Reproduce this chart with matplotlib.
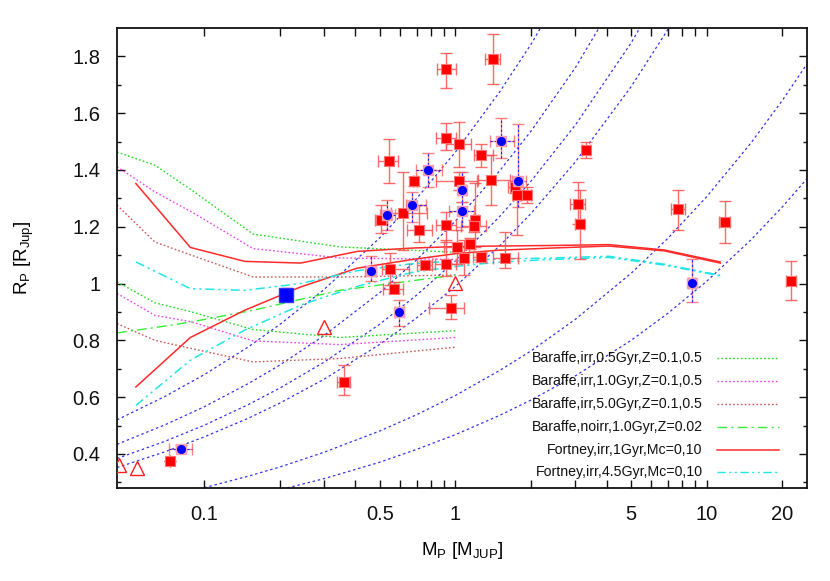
import numpy as np
import matplotlib
matplotlib.use("Agg")
import matplotlib.pyplot as plt
from matplotlib.ticker import FixedLocator, NullFormatter, FixedFormatter

plt.rcParams['font.family'] = ['Liberation Sans', 'DejaVu Sans']
plt.rcParams['mathtext.fontset'] = 'custom'
plt.rcParams['mathtext.rm'] = 'Liberation Sans'
plt.rcParams['mathtext.it'] = 'Liberation Sans'

# ---- transiting planets (red): M, R, M_lo, M_hi, R_lo, R_hi
red_m   = [0.921, 1.411, 0.921, 1.031, 0.543, 1.269, 0.687, 1.031, 1.391, 1.721,
           1.764, 1.934, 0.505, 0.621, 0.719, 0.918, 1.201, 1.182, 3.065, 3.13,
           3.308, 1.012, 1.143, 1.082, 1.261, 1.581, 0.915, 0.753, 0.551, 0.568,
           0.964, 0.359, 0.073, 7.68, 11.78, 21.57]
red_r   = [1.754, 1.792, 1.514, 1.490, 1.430, 1.452, 1.360, 1.360, 1.364, 1.340,
           1.311, 1.311, 1.225, 1.250, 1.190, 1.205, 1.223, 1.202, 1.280, 1.210,
           1.470, 1.130, 1.139, 1.090, 1.093, 1.090, 1.070, 1.066, 1.050, 0.982,
           0.914, 0.653, 0.375, 1.261, 1.217, 1.008]
red_mlo = [0.843, 1.311, 0.835, 0.921, 0.492, 1.183, 0.675, 0.835, 1.227, 1.62,
           1.70, 1.802, 0.478, 0.556, 0.640, 0.835, 1.17, 1.056, 2.868, 3.0,
           3.2, 0.90, 1.10, 1.05, 1.175, 1.411, 0.827, 0.706, 0.512, 0.515,
           0.783, 0.338, 0.073, 7.22, 11.23, 20.75]
red_mhi = [1.003, 1.510, 1.009, 1.150, 0.591, 1.407, 0.700, 1.223, 1.644, 1.80,
           1.83, 2.005, 0.533, 0.767, 0.803, 1.009, 1.23, 1.328, 3.277, 3.26,
           3.42, 1.13, 1.19, 1.12, 1.328, 1.773, 1.009, 0.803, 0.652, 0.619,
           1.079, 0.382, 0.073, 8.19, 12.34, 22.6]
red_rlo = [1.690, 1.702, 1.469, 1.411, 1.353, 1.411, 1.345, 1.329, 1.276, 1.32,
           1.170, 1.285, 1.177, 1.117, 1.146, 1.146, 1.129, 1.18, 1.211, 1.088,
           1.441, 1.07, 1.12, 1.029, 1.075, 1.054, 1.026, 1.05, 0.994, 0.965,
           0.874, 0.607, 0.375, 1.190, 1.143, 0.941]
red_rhi = [1.813, 1.880, 1.565, 1.569, 1.508, 1.490, 1.375, 1.393, 1.452, 1.36,
           1.353, 1.340, 1.276, 1.392, 1.276, 1.252, 1.353, 1.225, 1.358, 1.331,
           1.499, 1.19, 1.16, 1.152, 1.11, 1.182, 1.152, 1.08, 1.107, 1.006,
           0.959, 0.712, 0.375, 1.331, 1.290, 1.080]

# ---- blue points
blue_m   = [1.518, 0.778, 1.062, 1.781, 1.062, 0.672, 0.533, 0.460, 0.597, 0.081, 8.73]
blue_r   = [1.501, 1.400, 1.331, 1.360, 1.255, 1.275, 1.243, 1.044, 0.899, 0.419, 1.002]
blue_mlo = [1.369, 0.695, 1.024, 1.675, 0.940, 0.638, 0.500, 0.436, 0.573, 0.0726, 8.45]
blue_mhi = [1.706, 0.882, 1.106, 1.916, 1.182, 0.762, 0.573, 0.485, 0.623, 0.0897, 9.0]
blue_rlo = [1.441, 1.34, 1.287, 1.270, 1.199, 1.217, 1.188, 1.009, 0.850, 0.41, 0.935]
blue_rhi = [1.582, 1.46, 1.393, 1.561, 1.287, 1.3225, 1.293, 1.096, 0.941, 0.43, 1.088]

big_m, big_r, big_rlo, big_rhi = [0.211], [0.959], [0.94], [0.985]

# ---- solar system giants (open triangles)
ss_m = [0.0459, 0.0541, 0.300, 1.0]
ss_r = [0.360, 0.351, 0.847, 1.003]

# ---- Baraffe models
bar_m = [0.045, 0.0637, 0.0891, 0.1566, 0.3466, 1.0]
bar_05_z1 = [1.463, 1.4165, 1.329, 1.174, 1.129, 1.11]
bar_05_z5 = [1.006, 0.932, 0.900, 0.838, 0.810, 0.834]
bar_10_z1 = [1.411, 1.3225, 1.252, 1.123, 1.090, 1.085]
bar_10_z5 = [0.965, 0.888, 0.865, 0.798, 0.785, 0.81]
bar_50_z1 = [1.276, 1.146, 1.0996, 1.023, 1.023, 1.03]
bar_50_z5 = [0.859, 0.800, 0.771, 0.724, 0.736, 0.776]
bar_noirr = [0.826, 0.845, 0.865, 0.906, 0.976, 1.03]

# ---- Fortney models
fort_m = [0.0535, 0.0881, 0.145, 0.242, 0.406, 0.677, 1.0, 1.46, 2.44, 4.07, 6.78, 11.31]
fort_1_mc0  = [1.352, 1.127, 1.078, 1.072, 1.113, 1.125, 1.13, 1.132, 1.134, 1.137, 1.118, 1.076]
fort_1_mc10 = [0.636, 0.810, 0.906, 0.988, 1.054, 1.085, 1.105, 1.117, 1.125, 1.132, 1.115, 1.072]
fort_45_mc0  = [1.076, 0.982, 0.976, 1.000, 1.045, 1.070, 1.080, 1.086, 1.090, 1.096, 1.068, 1.029]
fort_45_mc10 = [0.571, 0.730, 0.836, 0.924, 0.990, 1.040, 1.060, 1.075, 1.085, 1.092, 1.065, 1.027]

# ---- iso-density curves
iso_m = [0.045, 0.07, 0.1, 0.15, 0.2, 0.3, 0.5, 0.7, 1, 1.5, 2, 3, 5, 7, 10, 15, 20, 25]
iso_r = [
    [0.520, 0.603, 0.679, 0.777, 0.856, 0.979, 1.161, 1.299, 1.463, 1.675, 1.843, 2.11],
    [0.434, 0.503, 0.566, 0.648, 0.713, 0.817, 0.968, 1.083, 1.220, 1.397, 1.537, 1.760, 2.09],
    [0.384, 0.445, 0.501, 0.574, 0.632, 0.723, 0.857, 0.959, 1.080, 1.236, 1.361, 1.558, 1.847, 2.07],
    [0.352, 0.408, 0.460, 0.526, 0.579, 0.663, 0.786, 0.879, 0.990, 1.133, 1.247, 1.428, 1.693, 1.894, 2.13],
    [0.216, 0.250, 0.281, 0.322, 0.354, 0.406, 0.481, 0.538, 0.606, 0.694, 0.763, 0.874, 1.036, 1.159, 1.306, 1.495, 1.645, 1.772],
    [0.167, 0.193, 0.217, 0.249, 0.274, 0.313, 0.371, 0.416, 0.468, 0.536, 0.590, 0.675, 0.800, 0.895, 1.008, 1.154, 1.270, 1.368],
]

legend_labels = ['Baraffe,irr,0.5Gyr,Z=0.1,0.5', 'Baraffe,irr,1.0Gyr,Z=0.1,0.5',
                 'Baraffe,irr,5.0Gyr,Z=0.1,0.5', 'Baraffe,noirr,1.0Gyr,Z=0.02',
                 'Fortney,irr,1Gyr,Mc=0,10', 'Fortney,irr,4.5Gyr,Mc=0,10']

c_green, c_mag, c_brown = '#22dd22', '#ee44ee', '#c85a5a'
c_dgreen, c_red, c_cyan = '#33ee33', '#ff2a2a', '#22e6e6'
dotted = (0, (1.2, 1.6))
dashdot = (0, (7, 3, 1.5, 3))
dashdotdot = (0, (6, 2.5, 1.5, 2.5, 1.5, 2.5))

fig = plt.figure(figsize=(8.3, 5.81), dpi=100)
ax = fig.add_axes([0.141, 0.160, 0.831, 0.792])

for r in iso_r:
    ax.plot(iso_m[:len(r)], r, color='#3333ee', ls=(0, (2, 2.2)), lw=0.9, zorder=1)

for r, c in [(bar_05_z1, c_green), (bar_05_z5, c_green), (bar_10_z1, c_mag),
             (bar_10_z5, c_mag), (bar_50_z1, c_brown), (bar_50_z5, c_brown)]:
    ax.plot(bar_m, r, color=c, ls=dotted, lw=1.0, zorder=2)
ax.plot(bar_m, bar_noirr, color=c_dgreen, ls=dashdot, lw=1.0, zorder=2)
for r in (fort_1_mc0, fort_1_mc10):
    ax.plot(fort_m, r, color=c_red, lw=1.1, zorder=2)
for r in (fort_45_mc0, fort_45_mc10):
    ax.plot(fort_m, r, color=c_cyan, ls=dashdotdot, lw=1.1, zorder=2)

# red planets
rm, rr = np.array(red_m), np.array(red_r)
xerr = [rm - np.array(red_mlo), np.array(red_mhi) - rm]
yerr = [rr - np.array(red_rlo), np.array(red_rhi) - rr]
ax.errorbar(rm, rr, xerr=xerr, yerr=yerr, fmt='none', ecolor='#ff5050',
            elinewidth=1.0, capsize=4, capthick=1.0, alpha=0.85, zorder=3)
ax.plot(rm, rr, 's', ms=6.5, mfc='#ff0000', mec='#ff7070', mew=0.8, ls='none', zorder=4)

# blue planets
bm, br = np.array(blue_m), np.array(blue_r)
bx = [bm - np.array(blue_mlo), np.array(blue_mhi) - bm]
by = [br - np.array(blue_rlo), np.array(blue_rhi) - br]
ax.errorbar(bm, br, xerr=bx, yerr=by, fmt='none', ecolor='#ff6060',
            elinewidth=1.0, capsize=4, capthick=1.0, alpha=0.8, zorder=3)
eb = ax.errorbar(bm, br, xerr=bx, yerr=by, fmt='none', ecolor='#2020ff',
                 elinewidth=0.8, capsize=0, zorder=3)
for lc in eb[2]:
    lc.set_linestyle((0, (2, 2)))
ax.plot(bm, br, 's', ms=6.5, mfc='#f4a0b4', mec='#f4a0b4', ls='none', zorder=4)
ax.plot(bm, br, 'o', ms=5.5, mfc='#0000ff', mec='#0000ff', ls='none', zorder=5)

ax.errorbar(big_m, big_r, yerr=[[big_r[0] - big_rlo[0]], [big_rhi[0] - big_r[0]]],
            fmt='none', ecolor='#ff3030', capsize=3, zorder=3)
ax.plot(big_m, big_r, 's', ms=10, mfc='#0000ff', mec='#3030ff', ls='none', zorder=5)

ax.plot(ss_m, ss_r, '^', ms=10, mfc='none', mec='#ff2020', mew=1.0, ls='none', zorder=5)

# legend, right-aligned text with sample to the right
leg_styles = [(c_green, dotted), (c_mag, dotted), (c_brown, dotted),
              (c_dgreen, dashdot), (c_red, '-'), (c_cyan, dashdotdot)]
leg_y = [0.282, 0.2326, 0.1826, 0.1333, 0.0826, 0.0341]
for lab, (c, ls), yy in zip(legend_labels, leg_styles, leg_y):
    ax.text(0.849, yy, lab, transform=ax.transAxes, ha='right', va='center',
            fontsize=10.2, color='#111111')
    ax.plot([0.8695, 0.960], [yy, yy], transform=ax.transAxes, color=c, ls=ls,
            lw=1.1 if ls == '-' else 1.0, zorder=6)

ax.set_xscale('log')
ax.set_xlim(0.045, 25)
ax.set_ylim(0.28, 1.9)

xt = [0.1 * i for i in range(1, 10)] + [float(i) for i in range(1, 10)] + [10.0, 20.0]
xlab = {0.1: '0.1', 0.5: '0.5', 1.0: '1', 5.0: '5', 10.0: '10', 20.0: '20'}
ax.xaxis.set_major_locator(FixedLocator(xt))
ax.xaxis.set_major_formatter(FixedFormatter([xlab.get(round(v, 1), '') for v in xt]))
ax.xaxis.set_minor_locator(FixedLocator([]))
ax.xaxis.set_minor_formatter(NullFormatter())

yt = [0.4, 0.6, 0.8, 1.0, 1.2, 1.4, 1.6, 1.8]
ax.yaxis.set_major_locator(FixedLocator(yt))
ax.yaxis.set_major_formatter(FixedFormatter(['0.4', '0.6', '0.8', '1', '1.2', '1.4', '1.6', '1.8']))
ax.yaxis.set_minor_locator(FixedLocator([0.3, 0.5, 0.7, 0.9, 1.1, 1.3, 1.5, 1.7]))

ax.tick_params(which='both', direction='in', top=True, right=True, width=1.0,
               labelsize=14.5, colors='#111111')
ax.tick_params(axis='x', which='major', length=5.5, pad=12)
ax.tick_params(axis='y', which='major', length=6, pad=12)
ax.tick_params(axis='y', which='minor', length=3)
for s in ax.spines.values():
    s.set_linewidth(1.3)
    s.set_color('#111111')

ax.set_xlabel(r'M$_{\rm P}$ [M$_{\rm JUP}$]', fontsize=13.5, labelpad=12)
ax.set_ylabel(r'R$_{\rm P}$ [R$_{\rm Jup}$]', fontsize=13.5, labelpad=26)

fig.savefig('out.png', dpi=100)
